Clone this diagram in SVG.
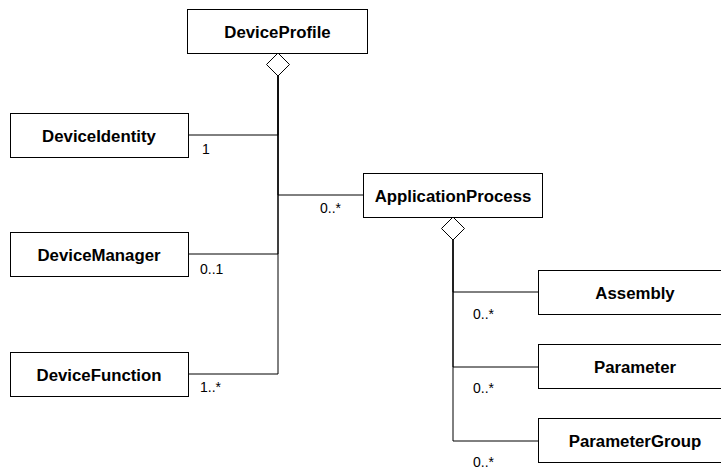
<svg xmlns="http://www.w3.org/2000/svg" width="721" height="470" viewBox="0 0 721 470">
<style>
.box{fill:#fff;stroke:#000;stroke-width:1}
.name{font-family:"Liberation Sans",Arial,sans-serif;font-weight:bold;font-size:16.8px;fill:#000;text-anchor:middle}
.mult{font-family:"Liberation Sans",Arial,sans-serif;font-size:14px;fill:#000}
.edge{fill:none;stroke:#000;stroke-width:1}
.dia{fill:#fff;stroke:#000;stroke-width:1}
</style>
<rect width="721" height="470" fill="#fff"/>
<g id="connectors">
<polyline class="edge" points="278,76 278,135 188,135"/>
<polyline class="edge" points="278,76 278,195 363,195"/>
<polyline class="edge" points="278,76 278,254 188,254"/>
<polyline class="edge" points="278,76 278,374 188,374"/>
<polygon class="dia" points="278,53 289.5,64.5 278,76 266.5,64.5"/>
<text class="mult" x="202" y="154">1</text>
<text class="mult" x="320" y="213">0..*</text>
<text class="mult" x="200" y="274">0..1</text>
<text class="mult" x="200" y="392">1..*</text>
<polyline class="edge" points="453,240 453,292 538,292"/>
<polyline class="edge" points="453,240 453,367 538,367"/>
<polyline class="edge" points="453,240 453,441 538,441"/>
<polygon class="dia" points="453,217 464.5,228.5 453,240 441.5,228.5"/>
<text class="mult" x="473" y="319">0..*</text>
<text class="mult" x="473" y="393">0..*</text>
<text class="mult" x="473" y="467">0..*</text>
</g>
<g id="DeviceProfile"><rect class="box" x="187.5" y="9.5" width="180" height="44"/><text class="name" x="277.5" y="38">DeviceProfile</text></g>
<g id="DeviceIdentity"><rect class="box" x="10.5" y="113.5" width="178" height="44"/><text class="name" x="99" y="142">DeviceIdentity</text></g>
<g id="DeviceManager"><rect class="box" x="10.5" y="232.5" width="178" height="44"/><text class="name" x="99" y="261">DeviceManager</text></g>
<g id="DeviceFunction"><rect class="box" x="10.5" y="352.5" width="178" height="44"/><text class="name" x="99" y="381">DeviceFunction</text></g>
<g id="ApplicationProcess"><rect class="box" x="363.5" y="173.5" width="179" height="44"/><text class="name" x="453" y="201.5">ApplicationProcess</text></g>
<g id="Assembly"><rect class="box" x="538.5" y="270.5" width="194" height="44"/><text class="name" x="635" y="298.5">Assembly</text></g>
<g id="Parameter"><rect class="box" x="538.5" y="344.5" width="194" height="44"/><text class="name" x="635" y="373">Parameter</text></g>
<g id="ParameterGroup"><rect class="box" x="538.5" y="418.5" width="194" height="44"/><text class="name" x="635" y="447">ParameterGroup</text></g>
</svg>
